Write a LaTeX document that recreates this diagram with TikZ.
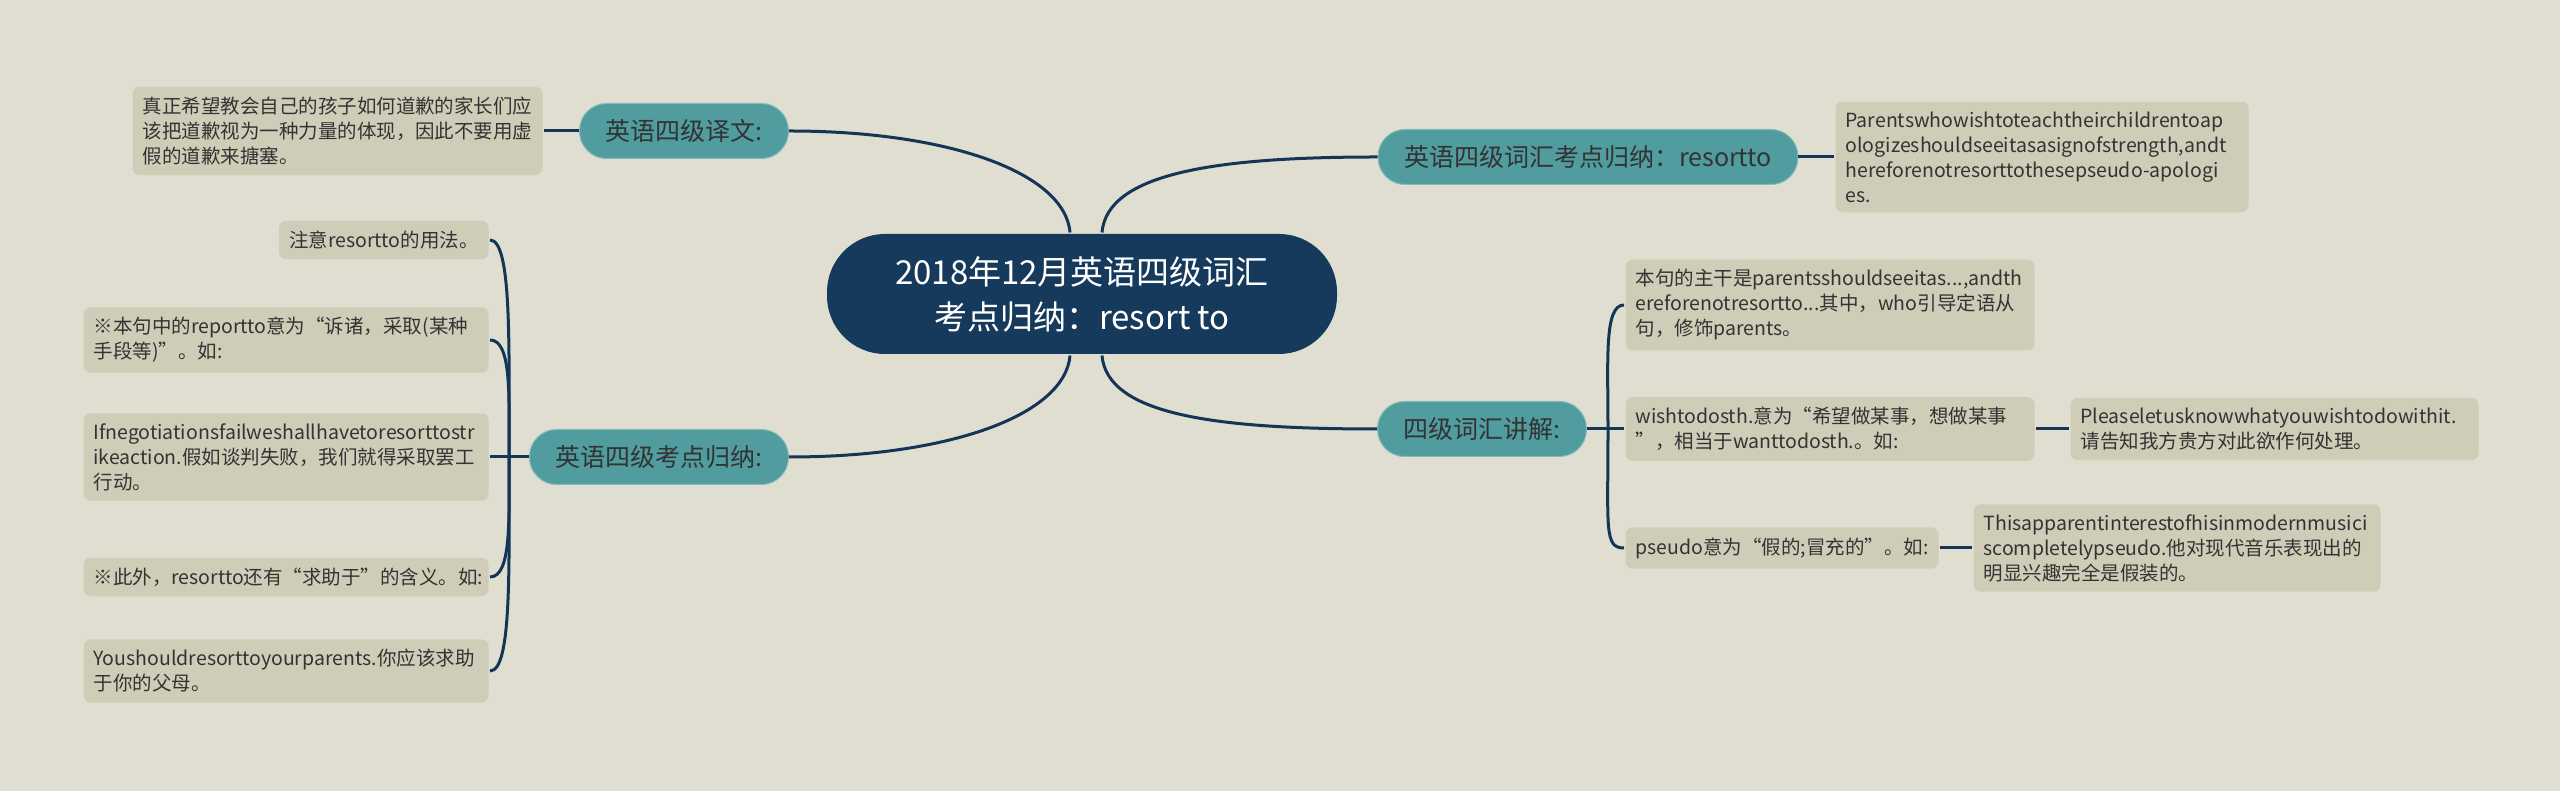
\documentclass[tikz,border=0pt]{standalone}
\usepackage{fontspec}
\setmainfont{Noto Sans CJK SC}
\usepackage[dvipsnames]{xcolor}
\definecolor{bgcol}{HTML}{E0DED0}
\definecolor{leafcol}{HTML}{CFCDB8}
\definecolor{tealcol}{HTML}{509C9E}
\definecolor{rootcol}{HTML}{163A5C}
\definecolor{linecol}{HTML}{143656}
\definecolor{txtcol}{HTML}{333333}

\begin{document}
\begin{tikzpicture}[x=1pt,y=1pt,line width=3pt,draw=linecol,
    root node/.style={fill=rootcol,text=white,rounded corners=58pt,minimum width=510pt,minimum height=120pt,align=center,font=\fontsize{33}{45}\selectfont},
    branch node/.style={fill=tealcol,draw=tealcol!70!white,line width=1pt,text=txtcol,rounded corners=27pt,minimum height=55pt,inner xsep=26pt,font=\fontsize{25}{28}\selectfont},
    leaf node/.style={fill=leafcol,text=txtcol,rounded corners=7pt,inner xsep=10pt,inner ysep=10pt,align=left,font=\fontsize{19.5}{25}\selectfont}]
            \useasboundingbox (0,0) rectangle (2560,791);
            \fill[bgcol] (0,0) rectangle (2560,791);

            \node[root node] (0) at (1082,497) {2018年12月英语四级词汇\\考点归纳：resort to};

            % branches
            \node[branch node] (1) at (684,660) {英语四级译文:};
            \node[branch node] (2) at (659,334) {英语四级考点归纳:};
            \node[branch node] (3) at (1588,634) {英语四级词汇考点归纳：resortto};
            \node[branch node] (4) at (1482,362) {四级词汇讲解:};

            % left leaves
            \node[leaf node,anchor=east,text width=390pt] (11) at (544,660) {真正希望教会自己的孩子如何道歉的家长们应\\该把道歉视为一种力量的体现，因此不要用虚\\假的道歉来搪塞。};
            \node[leaf node,anchor=east] (21) at (490,551) {注意resortto的用法。};
            \node[leaf node,anchor=east,text width=385pt] (22) at (490,451) {※本句中的reportto意为“诉诸，采取(某种\\手段等)”。如:};
            \node[leaf node,anchor=east,text width=385pt] (23) at (490,334) {Ifnegotiationsfailweshallhavetoresorttostr\\ikeaction.假如谈判失败，我们就得采取罢工\\行动。};
            \node[leaf node,anchor=east,text width=385pt] (24) at (490,214) {※此外，resortto还有“求助于”的含义。如:};
            \node[leaf node,anchor=east,text width=385pt] (25) at (490,120) {Youshouldresorttoyourparents.你应该求助\\于你的父母。};

            % right leaves
            \node[leaf node,anchor=west,text width=393pt] (31) at (1834,634) {Parentswhowishtoteachtheirchildrentoap\\ologizeshouldseeitasasignofstrength,andt\\hereforenotresorttothesepseudo-apologi\\es.};
            \node[leaf node,anchor=west,text width=389pt] (41) at (1624,486) {本句的主干是parentsshouldseeitas...,andth\\ereforenotresortto...其中，who引导定语从\\句，修饰parents。};
            \node[leaf node,anchor=west,text width=389pt] (42) at (1624,362) {wishtodosth.意为“希望做某事，想做某事\\”，相当于wanttodosth.。如:};
            \node[leaf node,anchor=west,text width=388pt] (421) at (2069,362) {Pleaseletusknowwhatyouwishtodowithit.\\请告知我方贵方对此欲作何处理。};
            \node[leaf node,anchor=west] (43) at (1624,243) {pseudo意为“假的;冒充的”。如:};
            \node[leaf node,anchor=west,text width=387pt] (431) at (1972,243) {Thisapparentinterestofhisinmodernmusici\\scompletelypseudo.他对现代音乐表现出的\\明显兴趣完全是假装的。};

            \coordinate (2b) at (509,334);
            \coordinate (4b) at (1608,362);

            \path[draw=linecol]
                (0.101) edge[out=95,in=0,out distance=60,in distance=160] (1.east)
                (0.72) edge[out=85,in=180,out distance=60,in distance=160] (3.west)
                (0.259) edge[out=-95,in=0,out distance=60,in distance=160] (2.east)
                (0.288) edge[out=-85,in=180,out distance=60,in distance=160] (4.west)
                (1.west) edge (11.east)
                (3.east) edge (31.west)
                (2.west) edge (23.east)
                (2b) edge[out=90,in=0,out distance=110,in distance=22] (21.east)
                (2b) edge[out=90,in=0,out distance=60,in distance=22] (22.east)
                (2b) edge[out=-90,in=0,out distance=60,in distance=22] (24.east)
                (2b) edge[out=-90,in=0,out distance=110,in distance=22] (25.east)
                (4.east) edge (42.west)
                (4b) edge[out=90,in=180,out distance=70,in distance=20] (41.west)
                (4b) edge[out=-90,in=180,out distance=100,in distance=20] (43.west)
                (42.east) edge (421.west)
                (43.east) edge (431.west)
                ;
        \end{tikzpicture}
\end{document}
